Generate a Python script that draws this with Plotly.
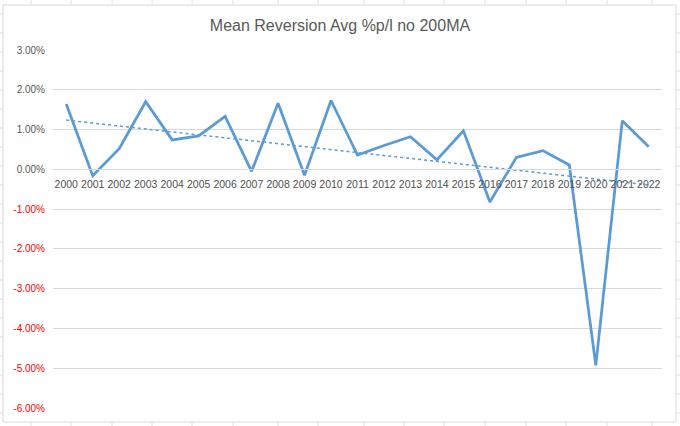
import numpy as np
import plotly.graph_objects as go

years = ['2000', '2001', '2002', '2003', '2004', '2005', '2006', '2007',
         '2008', '2009', '2010', '2011', '2012', '2013', '2014', '2015',
         '2016', '2017', '2018', '2019', '2020', '2021', '2022']
avg_pl = [1.64, -0.16, 0.52, 1.70, 0.74, 0.84, 1.33, -0.05,
          1.66, -0.15, 1.73, 0.36, 0.60, 0.82, 0.24, 0.97,
          -0.82, 0.30, 0.47, 0.11, -4.93, 1.22, 0.57]
y_ticks = [3, 2, 1, 0, -1, -2, -3, -4, -5, -6]

W, H = 680, 426
L, R, T, B = 53, 18, 50, 18
BLUE = '#5B9BD5'
GREY = '#595959'


def px_x(p):
    return (p - L) / (W - L - R)


def px_y(p):
    return (H - B - p) / (H - T - B)


vals = [v / 100 for v in avg_pl]
idx = np.arange(len(vals))
slope, icept = np.polyfit(idx, vals, 1)
trend = slope * idx + icept

tick_vals = [t / 100 for t in y_ticks]
tick_text = []
for t in tick_vals:
    lab = f'{t:.2%}'
    if t < 0:
        lab = f'<span style="color:#FF0000">{lab}</span>'
    tick_text.append(lab)

fig = go.Figure()
fig.add_trace(go.Scatter(x=years, y=vals, mode='lines',
                         line=dict(color=BLUE, width=2.75), showlegend=False))
fig.add_trace(go.Scatter(x=years, y=trend, mode='lines',
                         line=dict(color=BLUE, width=1.5, dash='dot'), showlegend=False))

# spreadsheet cells behind the chart object
shapes = []
col_x = [31, 71, 112, 152, 192, 233, 278, 318, 364, 404, 444, 485, 526, 566, 607, 652]
for c in col_x:
    shapes.append(dict(type='line', xref='paper', yref='paper', layer='below',
                       x0=px_x(c), x1=px_x(c), y0=px_y(0), y1=px_y(H),
                       line=dict(color='#e2e2e2', width=1)))
for r in range(14, H, 19):
    shapes.append(dict(type='line', xref='paper', yref='paper', layer='below',
                       x0=px_x(0), x1=px_x(W), y0=px_y(r), y1=px_y(r),
                       line=dict(color='#e2e2e2', width=1)))
shapes.append(dict(type='rect', xref='paper', yref='paper', layer='below',
                   x0=px_x(3), x1=px_x(676), y0=px_y(5), y1=px_y(422),
                   fillcolor='white', line=dict(color='#d9d9d9', width=1)))

ymin, ymax = -0.06, 0.03
fig.update_layout(
    width=W, height=H,
    margin=dict(l=L, r=R, t=T, b=B),
    paper_bgcolor='white', plot_bgcolor='rgba(0,0,0,0)',
    font=dict(family='Liberation Sans, Arial, sans-serif', color=GREY),
    title=dict(text='Mean Reversion Avg %p/l no 200MA', x=0.5, xref='container',
               xanchor='center', y=1 - 25 / H, yref='container', yanchor='middle',
               font=dict(size=16, color=GREY)),
    xaxis=dict(type='category', range=[-0.5, len(years) - 0.5],
               anchor='free', position=(0 - ymin) / (ymax - ymin),
               showgrid=False, zeroline=False, showline=True,
               linecolor='#d9d9d9', linewidth=1, ticks='',
               ticklabelstandoff=5, tickfont=dict(size=10.5, color='#505050')),
    yaxis=dict(range=[ymin, ymax], tickvals=tick_vals, ticktext=tick_text,
               showgrid=True, gridcolor='#d9d9d9', gridwidth=1,
               zeroline=False, showline=False, ticks='',
               ticklabelstandoff=7, tickfont=dict(size=10, color=GREY)),
    shapes=shapes,
)

fig.write_html('out.html', config={'displayModeBar': False},
               post_script="document.body.style.margin='0';")
